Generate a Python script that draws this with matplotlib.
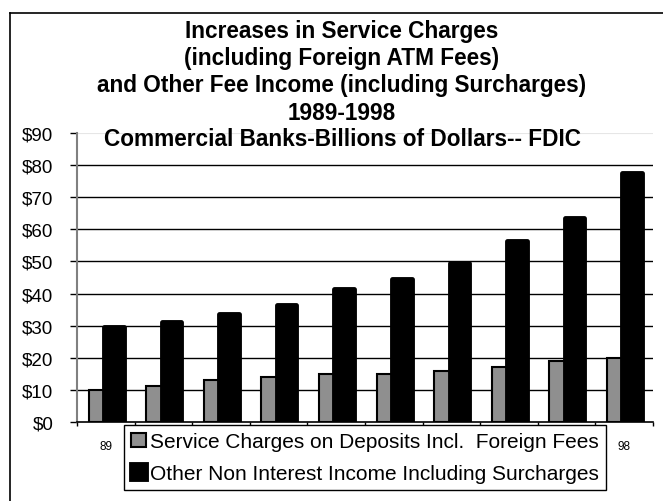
import matplotlib.pyplot as plt
from matplotlib.lines import Line2D

plt.rcParams['font.family'] = ['Liberation Sans', 'DejaVu Sans']

years = ['89', '90', '91', '92', '93', '94', '95', '96', '97', '98']
service_charges = [10, 11.3, 13, 14, 15, 15, 16, 17, 19, 20]
other_income = [29.5, 31, 33.5, 36.5, 41.5, 44.5, 49.5, 56.5, 63.5, 77.5]
y_ticks = [0, 10, 20, 30, 40, 50, 60, 70, 80, 90]

title_lines = ['Increases in Service Charges',
               '(including Foreign ATM Fees)',
               'and Other Fee Income (including Surcharges)',
               '1989-1998',
               'Commercial Banks-Billions of Dollars-- FDIC']

fig = plt.figure(figsize=(6.63, 5.02), dpi=100)
ax = fig.add_axes([77 / 663, 1 - 423 / 502, 576 / 663, 289 / 502])

x = range(len(years))
ax.bar([i - 0.12 for i in x], service_charges, width=0.36, color='#8f8f8f',
       edgecolor='black', linewidth=1.5, zorder=3,
       label='Service Charges on Deposits Incl.  Foreign Fees')
ax.bar([i + 0.14 for i in x], other_income, width=0.34, color='black',
       edgecolor='black', linewidth=3.5, joinstyle='round', zorder=4,
       label='Other Non Interest Income Including Surcharges')

ax.set_xlim(-0.5, 9.5)
ax.set_ylim(0, 90)
ax.set_yticks(y_ticks)
ax.set_yticklabels([f'${v}' for v in y_ticks], fontsize=13.5)
ax.set_xticks(list(x))
ax.set_xticklabels(years, fontsize=8.5)
# labels for 90-97 sit behind the legend box, as in the original
for lbl in ax.get_xticklabels()[1:-1]:
    lbl.set_visible(False)
ax.set_xticks([i + 0.5 for i in range(-1, 10)], minor=True)
ax.tick_params(axis='x', which='major', length=0, pad=13)
ax.tick_params(axis='x', which='minor', length=3, width=1, direction='out')
ax.tick_params(axis='y', length=5, width=1, pad=12)

for v in y_ticks[1:-1]:
    ax.axhline(v, color='black', linewidth=1, zorder=1)
ax.axhline(90, color='#e6e6e6', linewidth=0.8, zorder=1)

for s in ['top', 'right']:
    ax.spines[s].set_visible(False)
ax.spines['left'].set_color('#808080')
ax.spines['left'].set_linewidth(1.5)
ax.spines['bottom'].set_color('black')
ax.spines['bottom'].set_linewidth(1.2)

for k, line in enumerate(title_lines):
    fig.text(342 / 663, 1 - (32 + 27 * k) / 502, line, ha='center', va='center',
             fontsize=16.3, fontweight='bold', zorder=5)

fig.legend(loc='upper left', bbox_to_anchor=(124 / 663, 1 - 426 / 502),
           fontsize=15, frameon=True, fancybox=False, edgecolor='black',
           framealpha=1, borderpad=0.35, labelspacing=0.6, handlelength=0.7,
           handleheight=0.7, handletextpad=0.2, borderaxespad=0)

# outer chart border (left and top only visible)
fig.add_artist(Line2D([10 / 663, 10 / 663], [0, 1 - 14 / 502], color='black',
                      linewidth=1.2, transform=fig.transFigure))
fig.add_artist(Line2D([10 / 663, 1], [1 - 14 / 502, 1 - 14 / 502],
                      color='black', linewidth=1.2, transform=fig.transFigure))

fig.savefig('out.png', dpi=100)
